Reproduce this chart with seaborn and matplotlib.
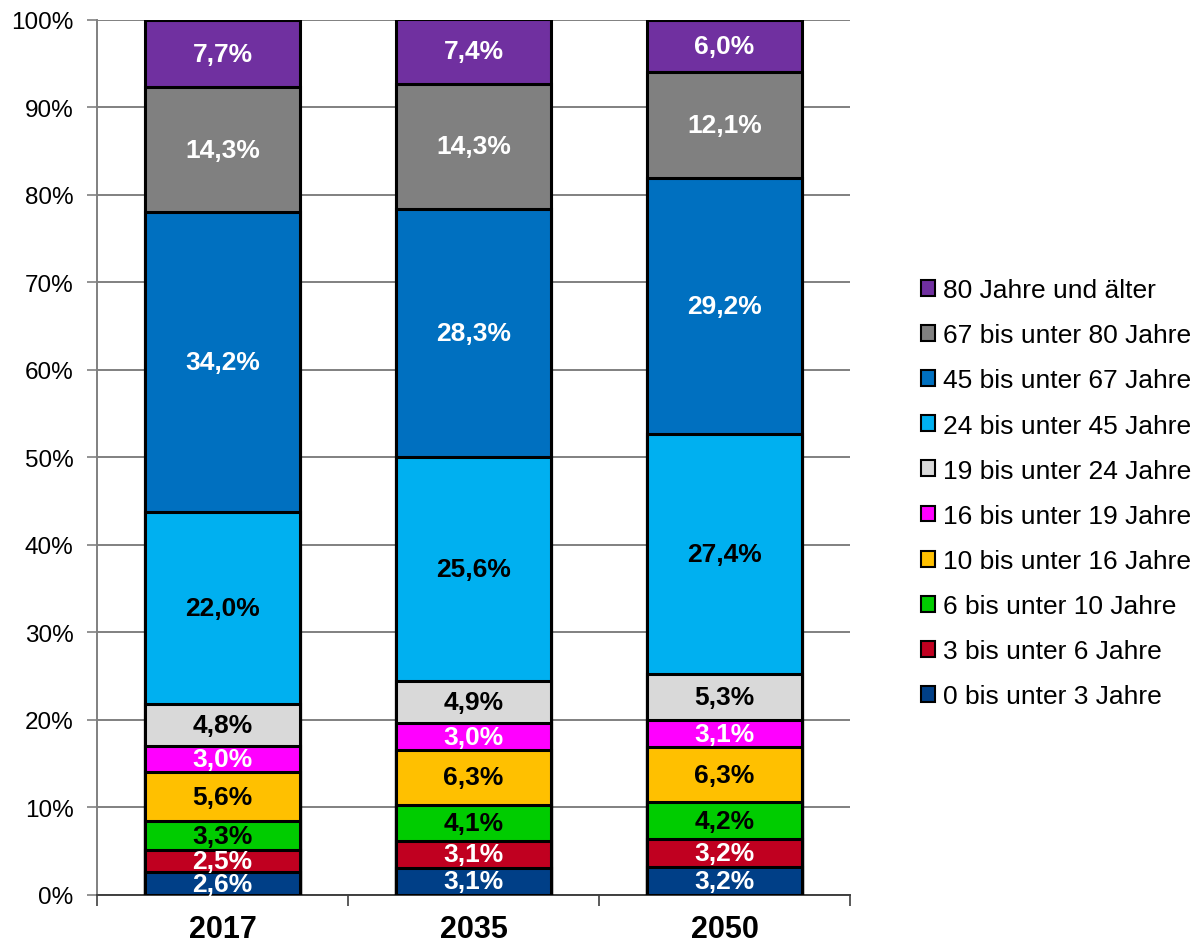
import numpy as np
import pandas as pd
import matplotlib
matplotlib.use("Agg")
import matplotlib.pyplot as plt
from matplotlib.patches import Patch
from matplotlib.ticker import FixedLocator
import seaborn as sns

years = ["2017", "2035", "2050"]
groups = [
    "0 bis unter 3 Jahre",
    "3 bis unter 6 Jahre",
    "6 bis unter 10 Jahre",
    "10 bis unter 16 Jahre",
    "16 bis unter 19 Jahre",
    "19 bis unter 24 Jahre",
    "24 bis unter 45 Jahre",
    "45 bis unter 67 Jahre",
    "67 bis unter 80 Jahre",
    "80 Jahre und älter",
]
share_2017 = [2.6, 2.5, 3.3, 5.6, 3.0, 4.8, 22.0, 34.2, 14.3, 7.7]
share_2035 = [3.1, 3.1, 4.1, 6.3, 3.0, 4.9, 25.6, 28.3, 14.3, 7.4]
share_2050 = [3.2, 3.2, 4.2, 6.3, 3.1, 5.3, 27.4, 29.2, 12.1, 6.0]

colors = ["#003F87", "#C00020", "#00CC00", "#FFC000", "#FF00FF",
          "#D9D9D9", "#00B0F0", "#0070C0", "#808080", "#7030A0"]
label_colors = ["white", "white", "black", "black", "white",
                "black", "black", "white", "white", "white"]

sns.set_theme(style="white")
plt.rcParams["font.family"] = ["Liberation Sans", "DejaVu Sans"]
plt.rcParams["text.color"] = "black"
plt.rcParams["xtick.color"] = "black"
plt.rcParams["ytick.color"] = "black"

shares = np.array([share_2017, share_2035, share_2050]).T  # groups x years
tops = np.cumsum(shares, axis=0)
bottoms = tops - shares

fig = plt.figure(figsize=(12.02, 9.45), dpi=100)
ax = fig.add_axes([0.0807, 0.0519, 0.6265, 0.9259])

# stacked bars: draw cumulative totals from the top layer downwards
for i in range(len(groups) - 1, -1, -1):
    df = pd.DataFrame({"Jahr": years, "Anteil": tops[i]})
    sns.barplot(data=df, x="Jahr", y="Anteil", color=colors[i], saturation=1,
                width=0.62, edgecolor="black", linewidth=2.2, ax=ax, zorder=3)

# value labels in the middle of each segment
for i in range(len(groups)):
    for j in range(len(years)):
        mid = bottoms[i, j] + shares[i, j] / 2
        ax.text(j, mid, f"{shares[i, j]:.1f}%".replace(".", ","),
                ha="center", va="center", fontsize=19, fontweight="bold",
                color=label_colors[i], zorder=5)

ax.set_xlim(-0.5, 2.5)
ax.set_ylim(0, 100)
ax.set_yticks(np.arange(0, 101, 10))
ax.set_yticklabels([f"{v}%" for v in range(0, 101, 10)], fontsize=17.5)
ax.yaxis.grid(True, color="#808080", linewidth=1.4, zorder=0)
ax.set_axisbelow(True)
ax.tick_params(axis="y", which="major", left=True, length=7, width=1.2,
               color="#808080", labelcolor="black", pad=10)
ax.tick_params(axis="x", which="major", bottom=False, length=0, pad=14,
               labelcolor="black")
ax.xaxis.set_minor_locator(FixedLocator([-0.5, 0.5, 1.5, 2.5]))
ax.tick_params(axis="x", which="minor", bottom=True, length=8, width=1.2,
               color="#404040")
for lbl in ax.get_xticklabels():
    lbl.set_fontsize(22)
    lbl.set_fontweight("bold")
ax.set_xlabel("")
ax.set_ylabel("")
for side in ["top", "right"]:
    ax.spines[side].set_visible(False)
ax.spines["left"].set_color("#808080")
ax.spines["left"].set_linewidth(1.4)
ax.spines["bottom"].set_color("#404040")
ax.spines["bottom"].set_linewidth(1.4)

handles = [Patch(facecolor=colors[i], edgecolor="black", linewidth=1.5,
                 label=groups[i]) for i in range(len(groups) - 1, -1, -1)]
leg = fig.legend(handles=handles, loc="center left",
                 bbox_to_anchor=(0.766, 0.477), frameon=False, fontsize=19,
                 handlelength=0.55, handleheight=0.55, handletextpad=0.3,
                 labelspacing=0.8, borderaxespad=0, borderpad=0)
for t in leg.get_texts():
    t.set_color("black")

fig.savefig("out.png", dpi=100)
